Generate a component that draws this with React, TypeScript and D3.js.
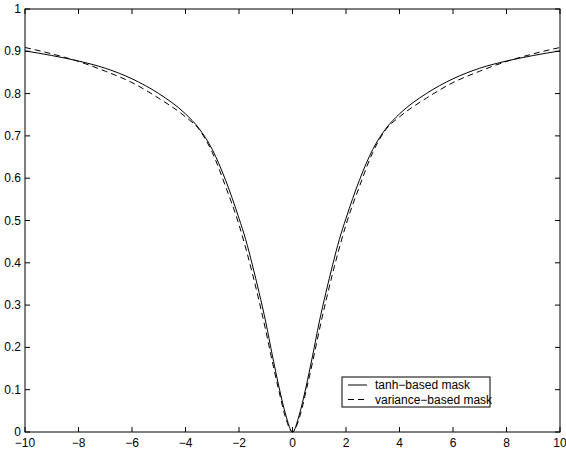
import React from "react";
import * as d3 from "d3";

const xValues = [-10, -9, -8, -7, -6, -5, -4, -3.5, -3, -2.5, -2, -1.75, -1.5, -1.25, -1, -0.75, -0.5, -0.25, 0,
  0.25, 0.5, 0.75, 1, 1.25, 1.5, 1.75, 2, 2.5, 3, 3.5, 4, 5, 6, 7, 8, 9, 10];
const tanhMask = [0.901, 0.89, 0.877, 0.86, 0.835, 0.8, 0.752, 0.718, 0.668, 0.595, 0.505, 0.455, 0.395, 0.33, 0.26, 0.18, 0.105, 0.04, 0,
  0.04, 0.105, 0.18, 0.26, 0.33, 0.395, 0.455, 0.505, 0.595, 0.668, 0.718, 0.752, 0.8, 0.835, 0.86, 0.877, 0.89, 0.901];
const varianceMask = [0.909, 0.894, 0.876, 0.853, 0.826, 0.789, 0.745, 0.716, 0.661, 0.58, 0.49, 0.435, 0.375, 0.31, 0.24, 0.165, 0.095, 0.032, 0,
  0.032, 0.095, 0.165, 0.24, 0.31, 0.375, 0.435, 0.49, 0.58, 0.661, 0.716, 0.745, 0.789, 0.826, 0.853, 0.876, 0.894, 0.909];
const xTicks = [-10, -8, -6, -4, -2, 0, 2, 4, 6, 8, 10];
const yTicks = [0, 0.1, 0.2, 0.3, 0.4, 0.5, 0.6, 0.7, 0.8, 0.9, 1];
const seriesNames = ["tanh\u2212based mask", "variance\u2212based mask"];

const W = 566, H = 456;
const L = 25, R = 560, T = 9, B = 432;

export default function App() {
  const x = d3.scaleLinear().domain([-10, 10]).range([L, R]);
  const y = d3.scaleLinear().domain([0, 1]).range([B, T]);
  const line = d3.line<number>()
    .x((_, i) => x(xValues[i]))
    .y((d) => y(d))
    .curve(d3.curveMonotoneX);
  const fmt = (v: number) => (v < 0 ? "\u2212" + Math.abs(v) : String(v));
  const font = "'Liberation Sans', Arial, Helvetica, sans-serif";
  const tl = 5;
  return (
    <svg width={W} height={H} style={{ position: "absolute", left: 0, top: 0, background: "#fff" }}>
      <rect x={0} y={0} width={W} height={H} fill="#fff" />
      <path d={line(tanhMask) || ""} fill="none" stroke="#000" strokeWidth={1} />
      <path d={line(varianceMask) || ""} fill="none" stroke="#000" strokeWidth={1} strokeDasharray="6,4" />
      <rect x={L} y={T} width={R - L} height={B - T} fill="none" stroke="#000" strokeWidth={1} />
      {xTicks.map((t) => (
        <g key={"x" + t}>
          <line x1={x(t)} x2={x(t)} y1={B} y2={B - tl} stroke="#000" />
          <line x1={x(t)} x2={x(t)} y1={T} y2={T + tl} stroke="#000" />
          <text x={x(t)} y={447} textAnchor="middle" fontFamily={font} fontSize={12}>{fmt(t)}</text>
        </g>
      ))}
      {yTicks.map((t) => (
        <g key={"y" + t}>
          <line x1={L} x2={L + tl} y1={y(t)} y2={y(t)} stroke="#000" />
          <line x1={R} x2={R - tl} y1={y(t)} y2={y(t)} stroke="#000" />
          <text x={21} y={y(t) + 4} textAnchor="end" fontFamily={font} fontSize={12}>{String(t)}</text>
        </g>
      ))}
      <rect x={342} y={377} width={148} height={30} fill="#fff" stroke="#000" strokeWidth={1} />
      <line x1={348} x2={367} y1={385} y2={385} stroke="#000" />
      <line x1={348} x2={367} y1={399.5} y2={399.5} stroke="#000" strokeDasharray="6,4" />
      <text x={375} y={389} fontFamily={font} fontSize={12}>{seriesNames[0]}</text>
      <text x={375} y={404} fontFamily={font} fontSize={12}>{seriesNames[1]}</text>
    </svg>
  );
}
